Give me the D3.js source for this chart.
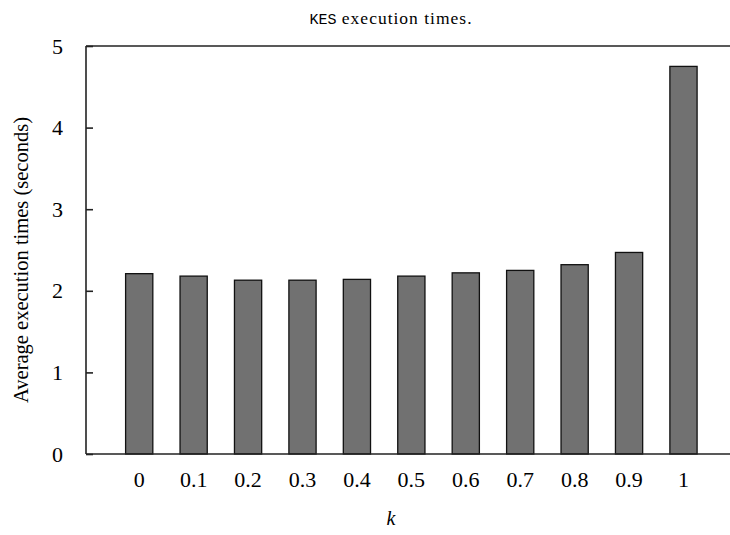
<!DOCTYPE html>
<html><head><meta charset="utf-8">
<script src="https://cdn.jsdelivr.net/npm/d3@7"></script>
<style>body{margin:0;background:#fff}svg{display:block}
.serif{font-family:"Liberation Serif","Times New Roman",Times,"DejaVu Serif",serif}
.mono{font-family:"Liberation Mono","DejaVu Sans Mono",monospace}
</style>
</head><body>
<script>
const categories = ["0","0.1","0.2","0.3","0.4","0.5","0.6","0.7","0.8","0.9","1"];
const values = [2.21,2.18,2.13,2.13,2.14,2.18,2.22,2.25,2.32,2.47,4.75];
const yTicks = [0,1,2,3,4,5];

const W = 730, H = 535;
const svg = d3.select("body").append("svg").attr("width", W).attr("height", H);

const mLeft = 86, mTop = 46, mBottom = 454, mRight = 730;
const x = d3.scaleBand().domain(categories).range([112, 710.7]).paddingInner(0.5).paddingOuter(0.25);
const y = d3.scaleLinear().domain([0,5]).range([mBottom, mTop]);

// bars
svg.append("g").selectAll("rect").data(values).join("rect")
  .attr("x", (d,i) => x(categories[i]))
  .attr("y", d => y(d))
  .attr("width", x.bandwidth())
  .attr("height", d => y(0) - y(d))
  .attr("fill", "#717171")
  .attr("stroke", "#111")
  .attr("stroke-width", 1.3);

// frame
const frame = svg.append("g").attr("stroke", "#222").attr("stroke-width", 1.6).attr("fill","none");
frame.append("line").attr("x1", mLeft).attr("x2", mLeft).attr("y1", mTop).attr("y2", mBottom);
frame.append("line").attr("x1", mLeft).attr("x2", mRight).attr("y1", mTop).attr("y2", mTop);
frame.append("line").attr("x1", mLeft).attr("x2", mRight).attr("y1", mBottom).attr("y2", mBottom);

// y axis
const yAxis = d3.axisLeft(y).tickValues(yTicks).tickSize(-7).tickPadding(23).tickFormat(d3.format("d"));
const gy = svg.append("g").attr("transform", `translate(${mLeft},0)`).call(yAxis)
  .attr("font-family", null).attr("font-size", null);
gy.select(".domain").remove();
gy.selectAll(".tick line").attr("stroke", "#222").attr("stroke-width", 1.6);
gy.selectAll(".tick text").attr("class","serif").style("font-size","22px").attr("fill","#000");

// x axis
const xAxis = d3.axisBottom(x).tickSize(0).tickPadding(17);
const gx = svg.append("g").attr("transform", `translate(0,${mBottom})`).call(xAxis)
  .attr("font-family", null).attr("font-size", null);
gx.select(".domain").remove();
gx.selectAll(".tick text").attr("class","serif").style("font-size","22px").attr("fill","#000");

// title
const title = svg.append("text").attr("class","serif").attr("x", 391).attr("y", 24).attr("text-anchor","middle")
  .style("font-size","17.5px").style("letter-spacing","1px").attr("fill","#000");
title.append("tspan").attr("class","mono").style("font-size","15px").style("letter-spacing","0px").text("KES");
title.append("tspan").text(" execution times.");

// axis labels
svg.append("text").attr("class","serif").attr("x", 391).attr("y", 525).attr("text-anchor","middle")
  .style("font-style","italic").style("font-size","20px").text("k");
svg.append("text").attr("class","serif").attr("transform","translate(28,260) rotate(-90)").attr("text-anchor","middle")
  .style("font-size","20.5px").text("Average execution times (seconds)");
</script>
</body></html>
